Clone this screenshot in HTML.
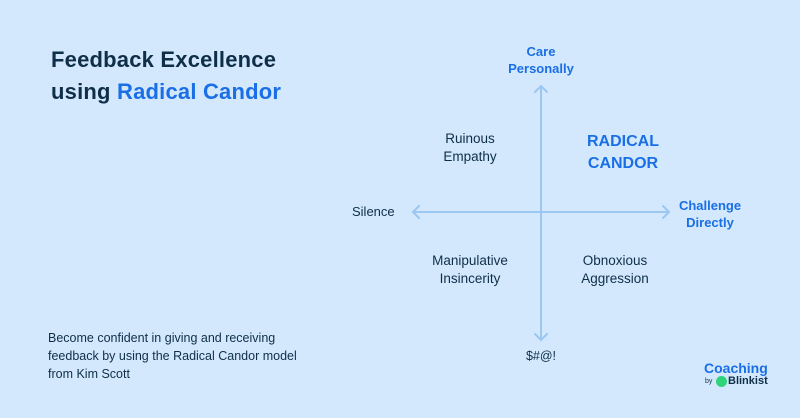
<!DOCTYPE html>
<html><head><meta charset="utf-8"><style>
html,body{margin:0;padding:0}
body{width:800px;height:418px;background:#d3e8fd;position:relative;overflow:hidden;font-family:"Liberation Sans",sans-serif;color:#0f2f48}
.a{position:absolute;white-space:nowrap}
.c{text-align:center}
.b{color:#1a6fe6;font-weight:bold}
</style></head><body>
<div class="a" style="left:51px;top:44px;font-size:22px;font-weight:bold;line-height:32px;letter-spacing:0.2px">Feedback Excellence<br>using <span style="color:#1a6fe6">Radical Candor</span></div>
<div class="a" style="left:48px;top:329px;font-size:12.5px;line-height:18px">Become confident in giving and receiving<br>feedback by using the Radical Candor model<br>from Kim Scott</div>
<svg class="a" style="left:0;top:0" width="800" height="418">
<g stroke="#9bc7f1" stroke-width="2" fill="none" stroke-linecap="round">
<line x1="541" y1="86" x2="541" y2="340"/>
<polyline points="535,92 541,86 547,92"/>
<polyline points="535,334 541,340 547,334"/>
<line x1="413" y1="212" x2="669" y2="212"/>
<polyline points="419,206 413,212 419,218"/>
<polyline points="663,206 669,212 663,218"/>
</g></svg>
<div class="a c b" style="left:491px;top:43px;width:100px;font-size:13px;line-height:17px">Care<br>Personally</div>
<div class="a c b" style="left:660px;top:197px;width:100px;font-size:13px;line-height:17px">Challenge<br>Directly</div>
<div class="a" style="left:352px;top:204px;font-size:13px">Silence</div>
<div class="a c" style="left:420px;top:130px;width:100px;font-size:13.5px;line-height:18px">Ruinous<br>Empathy</div>
<div class="a c b" style="left:558px;top:131px;width:130px;font-size:16px;line-height:22px">RADICAL<br>CANDOR</div>
<div class="a c" style="left:410px;top:252px;width:120px;font-size:13.5px;line-height:18px">Manipulative<br>Insincerity</div>
<div class="a c" style="left:555px;top:252px;width:120px;font-size:13.5px;line-height:18px">Obnoxious<br>Aggression</div>
<div class="a c" style="left:511px;top:349px;width:60px;font-size:12.5px">$#@!</div>
<div class="a b" style="left:704px;top:360px;font-size:14px">Coaching</div>
<div class="a" style="left:705px;top:378px;font-size:7px">by</div>
<div class="a" style="left:716px;top:376px;width:11px;height:11px;border-radius:50%;background:#2ed47a"></div>
<div class="a" style="left:728px;top:375px;font-size:11px;font-weight:bold">Blinkist</div>
</body></html>
